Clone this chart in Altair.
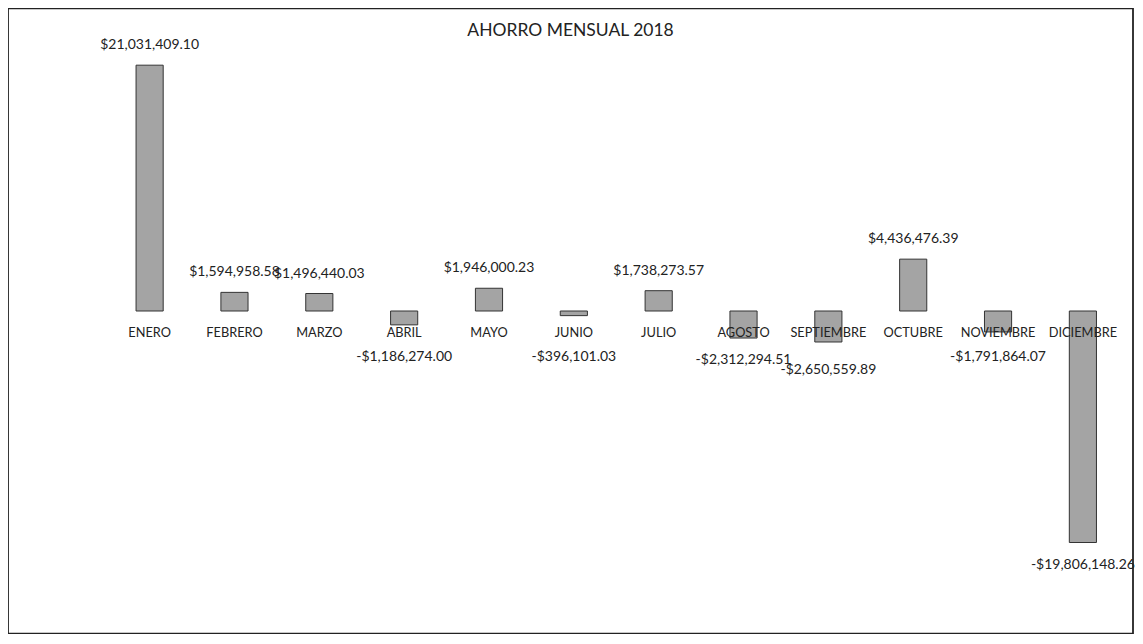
import altair as alt
import pandas as pd

months = ["ENERO", "FEBRERO", "MARZO", "ABRIL", "MAYO", "JUNIO", "JULIO",
          "AGOSTO", "SEPTIEMBRE", "OCTUBRE", "NOVIEMBRE", "DICIEMBRE"]
savings = [21031409.10, 1594958.58, 1496440.03, -1186274.00, 1946000.23, -396101.03,
           1738273.57, -2312294.51, -2650559.89, 4436476.39, -1791864.07, -19806148.26]
value_labels = ["$21,031,409.10", "$1,594,958.58", "$1,496,440.03", "-$1,186,274.00",
                "$1,946,000.23", "-$396,101.03", "$1,738,273.57", "-$2,312,294.51",
                "-$2,650,559.89", "$4,436,476.39", "-$1,791,864.07", "-$19,806,148.26"]

df = pd.DataFrame({"mes": months, "ahorro": savings, "etiqueta": value_labels})

FONT = "Lato"
W, H = 1126, 626

x_enc = alt.X("mes:N", sort=months, axis=None,
              scale=alt.Scale(paddingInner=0.68, paddingOuter=0.97, align=0.778))
y_scale = alt.Scale(domain=[-27610000, 25900000], nice=False, zero=False)

base = alt.Chart(df).transform_calculate(base0="0")

bars = base.mark_bar(color="#a4a4a4", stroke="#333333", strokeWidth=1).encode(
    x=x_enc,
    y=alt.Y("ahorro:Q", scale=y_scale, axis=None),
    y2=alt.Y2("base0:Q"),
)

cats = base.mark_text(font=FONT, fontSize=12.8, color="#222222", baseline="middle", dy=22).encode(
    x=x_enc,
    y=alt.Y("base0:Q", scale=y_scale, axis=None),
    text="mes:N",
)

# value labels: above positive bars, below negative bars (kept clear of the month
# names; staggered when two negative months are neighbours, as in the original)
vals = alt.Chart(df).transform_window(
    window=[{"op": "lag", "field": "ahorro", "as": "prev"}]
).transform_calculate(
    pos="datum.ahorro >= 0 ? datum.ahorro + 1700000 : "
        "min(datum.ahorro - 1900000, (datum.prev != null && datum.prev < 0) ? -5050000 : -3900000)"
).mark_text(font=FONT, fontSize=14, color="#222222", baseline="middle").encode(
    x=x_enc,
    y=alt.Y("pos:Q", scale=y_scale, axis=None),
    text="etiqueta:N",
)

chart = alt.layer(bars, cats, vals).properties(
    width=W,
    height=H,
    padding=0,
    background="white",
    title=alt.TitleParams("AHORRO MENSUAL 2018", font=FONT, fontSize=17.5, fontWeight="normal",
                          color="#222222", anchor="middle", offset=-31),
).configure_view(stroke="#222222", strokeWidth=1.8)

chart.save("out.html", embed_options={"renderer": "svg", "actions": False})
